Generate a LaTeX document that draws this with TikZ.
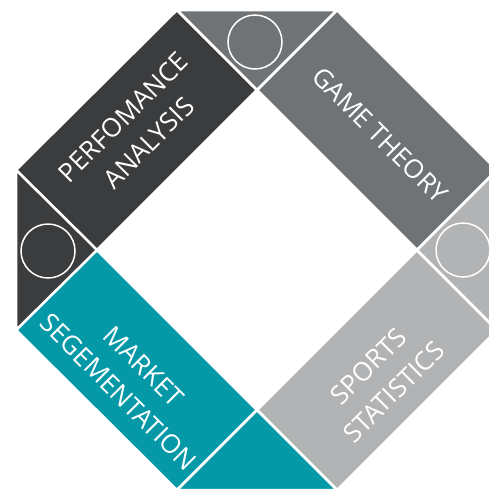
\documentclass[tikz,border=0pt]{standalone}
\usepackage{fontspec}
\setmainfont{Open Sans}
\definecolor{perfdark}{HTML}{3B3C3E}
\definecolor{gamegray}{HTML}{707376}
\definecolor{sportgray}{HTML}{B1B3B5}
\definecolor{marketteal}{HTML}{0599A8}
\begin{document}
\begin{tikzpicture}[x=1pt,y=-1pt,
	band/.style={draw=white,line width=2.5pt,line join=miter},
	ring/.style={circle,draw=white,line width=1.5pt,minimum size=54pt,inner sep=0pt},
	bandtext/.style={text=white,font=\fontsize{26}{36}\selectfont,align=center,inner sep=0pt}]
	
	\useasboundingbox (0,0) rectangle (489,488);
	\clip (0,0) rectangle (489,488);
	
	% bands
	\draw[band,fill=perfdark] (177,10) -- (257,90) -- (97,250) -- (16,170) -- cycle;
	\draw[band,fill=gamegray] (337,10) -- (497,170) -- (417,250) -- (257,90) -- cycle;
	\draw[band,fill=sportgray] (417,250) -- (497,330) -- (337,490) -- (257,410) -- cycle;
	\draw[band,fill=marketteal] (97,250) -- (257,410) -- (177,490) -- (16,330) -- cycle;
	
	% corners
	\draw[band,fill=gamegray] (177,10) -- (337,10) -- (257,90) -- cycle;
	\draw[band,fill=sportgray] (497,170) -- (497,330) -- (417,250) -- cycle;
	\draw[band,fill=marketteal] (337,490) -- (177,490) -- (257,410) -- cycle;
	\draw[band,fill=perfdark] (16,330) -- (16,170) -- (97,250) -- cycle;
	
	\node[ring] (ringtop) at (255,42) {};
	\node[ring] (ringleft) at (48,251) {};
	\node[ring] (ringright) at (463,250) {};
	
	\node[bandtext,rotate=45] (perf) at (136,130) {PERFOMANCE\\ANALYSIS};
	\node[bandtext,rotate=-45] (game) at (380,135) {GAME THEORY};
	\node[bandtext,rotate=45] (sports) at (381,379) {SPORTS\\STATISTICS};
	\node[bandtext,rotate=-45] (market) at (131,379) {MARKET\\SEGEMENTATION};
\end{tikzpicture}
\end{document}
